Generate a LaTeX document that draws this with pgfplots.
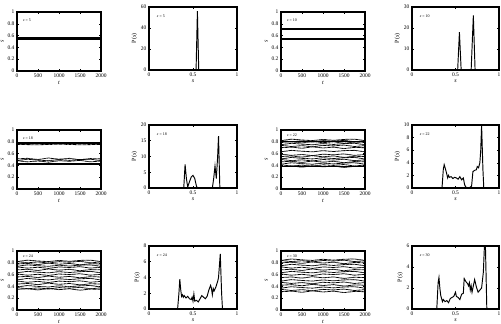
\documentclass[border=0pt]{standalone}
\usepackage{fontspec}
\setmainfont{Liberation Serif}
\usepackage{pgfplots}
\usepackage{pgfplotstable}
\pgfplotsset{compat=1.18}

\pgfplotstableread{
t y1 y2 y3 y4 y5 y6 y7 y8 y9 y10 y11 y12 y13 y14 y15
0 .38 .41 .42 .46 .50 .51 .55 .59 .63 .70 .74 .75 .79 .82 .82
250 .39 .39 .445 .47 .48 .535 .56 .57 .655 .71 .72 .775 .80 .80 .845
500 .37 .405 .43 .45 .495 .52 .54 .585 .64 .69 .735 .76 .78 .815 .83
750 .395 .385 .42 .475 .475 .51 .565 .565 .63 .715 .715 .75 .805 .795 .82
1000 .375 .41 .44 .455 .50 .53 .545 .59 .65 .695 .74 .77 .785 .82 .84
1250 .39 .40 .425 .47 .49 .515 .56 .58 .635 .71 .73 .755 .80 .81 .825
1500 .365 .415 .44 .445 .505 .53 .535 .595 .65 .685 .745 .77 .775 .825 .84
1750 .385 .39 .445 .465 .48 .535 .555 .57 .655 .705 .72 .775 .795 .80 .845
2000 .38 .405 .42 .46 .495 .51 .55 .585 .63 .70 .735 .75 .79 .815 .82
}\tsB

\pgfplotstableread{
t y1 y2 y3 y4 y5 y6 y7 y8 y9 y10 y11 y12 y13 y14 y15
0 .35 .38 .39 .44 .49 .51 .56 .61 .63 .68 .73 .74 .78 .82 .82
250 .36 .36 .415 .45 .47 .535 .57 .59 .655 .69 .71 .765 .79 .80 .845
500 .34 .375 .40 .43 .485 .52 .55 .605 .64 .67 .725 .75 .77 .815 .83
750 .365 .355 .39 .455 .465 .51 .575 .585 .63 .695 .705 .74 .795 .795 .82
1000 .345 .38 .41 .435 .49 .53 .555 .61 .65 .675 .73 .76 .775 .82 .84
1250 .36 .37 .395 .45 .48 .515 .57 .60 .635 .69 .72 .745 .79 .81 .825
1500 .335 .385 .41 .425 .495 .53 .545 .615 .65 .665 .735 .76 .765 .825 .84
1750 .355 .36 .415 .445 .47 .535 .565 .59 .655 .685 .71 .765 .785 .80 .845
2000 .35 .375 .39 .44 .485 .51 .56 .605 .63 .68 .725 .74 .78 .815 .82
}\tsC

\pgfplotstableread{
t y1 y2 y3 y4 y5 y6 y7 y8 y9 y10 y11 y12 y13 y14 y15
0 .31 .35 .37 .42 .47 .49 .55 .61 .63 .68 .73 .75 .80 .84 .84
250 .32 .33 .395 .43 .45 .515 .56 .59 .655 .69 .71 .775 .81 .82 .865
500 .30 .345 .38 .41 .465 .50 .54 .605 .64 .67 .725 .76 .79 .835 .85
750 .325 .325 .37 .435 .445 .49 .565 .585 .63 .695 .705 .75 .815 .815 .84
1000 .305 .35 .39 .415 .47 .51 .545 .61 .65 .675 .73 .77 .795 .84 .86
1250 .32 .34 .375 .43 .46 .495 .56 .60 .635 .69 .72 .755 .81 .83 .845
1500 .295 .355 .39 .405 .475 .51 .535 .615 .65 .665 .735 .77 .785 .845 .86
1750 .315 .33 .395 .425 .45 .515 .555 .59 .655 .685 .71 .775 .805 .82 .865
2000 .31 .345 .37 .42 .465 .49 .55 .605 .63 .68 .725 .75 .80 .835 .84
}\tsD

\pgfplotstableread{
t y1 y2 y3
0 .48 .48 .51
250 .46 .505 .52
500 .475 .49 .50
750 .455 .48 .525
1000 .48 .50 .505
1250 .47 .485 .52
1500 .485 .50 .495
1750 .46 .505 .515
2000 .475 .48 .51
}\tsA

\tikzset{
  eps/.style={anchor=west, font=\fontsize{4}{4}\selectfont},
  tl/.style={black, line width=0.8pt, dash pattern=on 0.6pt off 0.35pt},
  hl/.style={black, line width=0.95pt},
}
\pgfplotsset{
  panel/.style={scale only axis, axis line style={line width=1.4pt},
    tick style={line width=0.5pt, black}, major tick length=2pt, tick align=inside,
    tick pos=both,
    /pgf/number format/assume math mode=true,
    /pgf/number format/1000 sep={},
    ticklabel style={font=\fontsize{5.5}{6}\selectfont},
    label style={font=\fontsize{6}{6}\selectfont},
    xticklabel style={yshift=1pt},
    yticklabel style={xshift=1pt},
    xlabel style={yshift=3pt}, ylabel style={yshift=-3pt}},
  ts/.style={panel, width=84pt, height=59pt, xmin=0, xmax=2000, ymin=0, ymax=1,
    xtick={0,500,1000,1500,2000}, ytick={0,0.2,0.4,0.6,0.8,1},
    scaled x ticks=false, xlabel={\textit{t}}, ylabel={\textit{s}}},
  hist/.style={panel, width=88pt, height=63pt, xmin=0, xmax=1, ymin=0,
    xtick={0,0.5,1}, xlabel={\textit{s}}, ylabel={P(\textit{s})}},
}

\begin{document}
\begin{tikzpicture}
\useasboundingbox (0,0) rectangle (501pt,324pt);

% Row 1
\begin{axis}[ts, at={(17pt,253pt)}, anchor=south west]
\addplot[black, line width=2.6pt] coordinates {(0,0.552) (2000,0.552)};
\node[eps] at (rel axis cs:0.03,0.86) {\textit{ε} = 5};
\end{axis}
\begin{axis}[hist, at={(149pt,254pt)}, anchor=south west, ymax=60, ytick={0,20,40,60}]
\addplot[hl] coordinates {(0.5,0) (0.535,0) (0.55,56) (0.565,0) (0.6,0)};
\node[eps] at (rel axis cs:0.05,0.86) {\textit{ε} = 5};
\end{axis}
\begin{axis}[ts, at={(281pt,253pt)}, anchor=south west]
\addplot[black, line width=2.2pt] coordinates {(0,0.548) (2000,0.548)};
\addplot[black, line width=2.0pt] coordinates {(0,0.708) (2000,0.708)};
\node[eps] at (rel axis cs:0.03,0.86) {\textit{ε} = 10};
\end{axis}
\begin{axis}[hist, at={(412pt,254pt)}, anchor=south west, width=87pt, ymax=30, ytick={0,10,20,30}]
\addplot[hl] coordinates {(0.5,0) (0.525,0) (0.545,18) (0.565,0) (0.68,0) (0.705,26) (0.725,0) (0.75,0)};
\node[eps] at (rel axis cs:0.05,0.86) {\textit{ε} = 10};
\end{axis}

% Row 2
\begin{axis}[ts, at={(17pt,135pt)}, anchor=south west]
\addplot[black, line width=1.8pt] coordinates {(0,0.42) (2000,0.42)};
\addplot[black, line width=2.2pt] coordinates {(0,0.785) (2000,0.785)};
\addplot[tl] coordinates {(0,0.755) (500,0.75) (1000,0.76) (1500,0.75) (2000,0.755)};
\pgfplotsinvokeforeach{1,2,3}{\addplot[tl] table[x=t, y=y#1] {\tsA};}
\node[eps] at (rel axis cs:0.03,0.86) {\textit{ε} = 18};
\end{axis}
\begin{axis}[hist, at={(149pt,136pt)}, anchor=south west, ymax=20, ytick={0,5,10,15,20}]
\addplot[hl] coordinates {(0.38,0) (0.395,0) (0.41,7.5) (0.425,3) (0.44,0.3) (0.46,2) (0.48,3.5) (0.50,4) (0.52,3) (0.54,0.5) (0.555,0) (0.72,0) (0.735,3) (0.75,7) (0.765,3) (0.78,10) (0.79,16.5) (0.805,0) (0.82,0)};
\node[eps] at (rel axis cs:0.05,0.86) {\textit{ε} = 18};
\end{axis}
\begin{axis}[ts, at={(281pt,135pt)}, anchor=south west]
\pgfplotsinvokeforeach{1,...,15}{\addplot[tl] table[x=t, y=y#1] {\tsB};}
\addplot[black, line width=1.4pt] coordinates {(0,0.80) (2000,0.80)};
\addplot[black, line width=1.0pt] coordinates {(0,0.385) (2000,0.385)};
\node[eps] at (rel axis cs:0.03,0.92) {\textit{ε} = 22};
\end{axis}
\begin{axis}[hist, at={(412pt,136pt)}, anchor=south west, width=87pt, ymax=10, ytick={0,2,4,6,8,10}]
\addplot[hl] coordinates {(0.32,0) (0.345,0) (0.36,3) (0.37,3.7) (0.385,3) (0.40,2.2) (0.41,1.6) (0.42,2) (0.43,1.7) (0.45,1.8) (0.47,1.5) (0.49,1.7) (0.51,1.6) (0.53,1.4) (0.55,1.8) (0.57,1.3) (0.59,1.6) (0.605,0.5) (0.62,0.1) (0.66,0.05) (0.685,0.3) (0.70,2.6) (0.72,2.8) (0.74,2.9) (0.75,3.4) (0.765,3.2) (0.78,4) (0.79,6) (0.80,10) (0.815,3) (0.825,0) (0.85,0)};
\node[eps] at (rel axis cs:0.05,0.86) {\textit{ε} = 22};
\end{axis}

% Row 3
\begin{axis}[ts, at={(17pt,14pt)}, anchor=south west]
\pgfplotsinvokeforeach{1,...,15}{\addplot[tl] table[x=t, y=y#1] {\tsC};}
\node[eps] at (rel axis cs:0.03,0.92) {\textit{ε} = 24};
\end{axis}
\begin{axis}[hist, at={(149pt,15pt)}, anchor=south west, ymax=8, ytick={0,2,4,6,8}]
\addplot[hl] coordinates {(0.3,0) (0.325,0) (0.34,2) (0.35,3.8) (0.36,2.5) (0.37,1.6) (0.38,1.8) (0.39,1.5) (0.40,1.7) (0.42,1.4) (0.44,1.6) (0.46,1.3) (0.48,1.2) (0.49,1.5) (0.50,1.0) (0.51,1.9) (0.52,1.0) (0.54,1.1) (0.56,0.9) (0.58,1.3) (0.60,1.7) (0.62,1.5) (0.64,1.3) (0.66,1.6) (0.68,2.4) (0.70,3.0) (0.71,2.6) (0.72,1.8) (0.73,2.6) (0.74,2.3) (0.76,2.8) (0.78,3.5) (0.79,4.0) (0.81,7.0) (0.825,2) (0.835,0) (0.86,0)};
\node[eps] at (rel axis cs:0.05,0.86) {\textit{ε} = 24};
\end{axis}
\begin{axis}[ts, at={(281pt,14pt)}, anchor=south west]
\pgfplotsinvokeforeach{1,...,15}{\addplot[tl] table[x=t, y=y#1] {\tsD};}
\node[eps] at (rel axis cs:0.03,0.92) {\textit{ε} = 30};
\end{axis}
\begin{axis}[hist, at={(412pt,15pt)}, anchor=south west, width=87pt, ymax=6, ytick={0,2,4,6}]
\addplot[hl] coordinates {(0.26,0) (0.285,0) (0.30,2.5) (0.31,3.0) (0.32,2.0) (0.33,1.3) (0.34,1.0) (0.35,0.7) (0.36,0.9) (0.38,0.7) (0.40,0.8) (0.42,0.6) (0.44,1.0) (0.46,1.1) (0.48,1.2) (0.50,1.6) (0.51,1.2) (0.53,1.1) (0.55,0.9) (0.57,1.4) (0.59,1.5) (0.60,2.9) (0.62,2.6) (0.64,2.4) (0.65,2.2) (0.66,2.5) (0.67,1.8) (0.68,2.2) (0.69,1.6) (0.70,2.0) (0.72,2.8) (0.74,2.1) (0.76,1.6) (0.78,1.8) (0.80,2.0) (0.82,3.5) (0.84,7.5) (0.86,0) (0.88,0)};
\node[eps] at (rel axis cs:0.05,0.86) {\textit{ε} = 30};
\end{axis}
\end{tikzpicture}
\end{document}
